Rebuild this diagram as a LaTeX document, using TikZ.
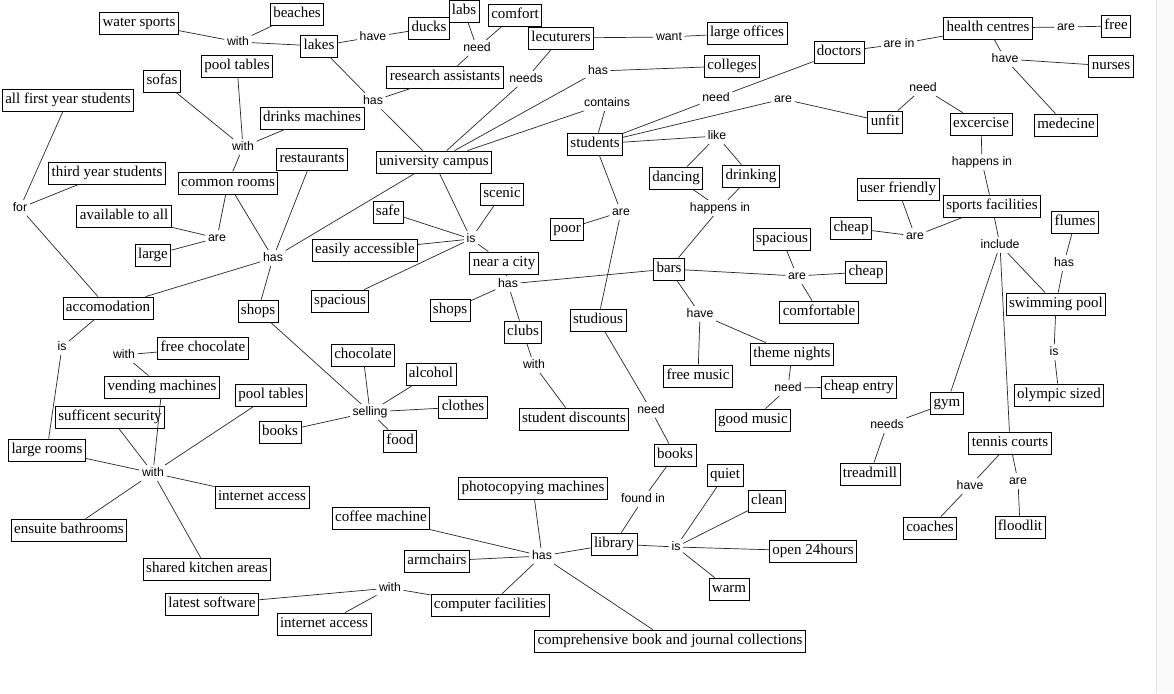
\documentclass[tikz,border=0pt]{standalone}
\usepackage{fontspec}
\setmainfont{Liberation Serif}
\newfontfamily\labfam{Liberation Sans}
\newcommand\boxfont{\fontsize{15}{18}\selectfont}
\newcommand\labfont{\labfam\fontsize{12.3}{14}\selectfont}
\begin{document}
\begin{tikzpicture}[x=1pt,y=-1pt,
  box/.style={draw=black, line width=0.8pt, font=\boxfont, inner xsep=3pt, inner ysep=3.6pt, text height=11pt, text depth=3.8pt},
  lab/.style={font=\labfont, inner sep=2.5pt, text height=8.5pt, text depth=2pt},
  conn/.style={line width=0.7pt, black!85}]
\useasboundingbox[fill=white] (0,0) rectangle (1174,693);
\fill[black!2] (1157,0) rectangle (1174,693);
\draw[black!12, line width=0.6pt] (1156.5,0) -- (1156.5,693);

% boxes
\node[box] (ws) at (139,23) {water sports};
\node[box] (beaches) at (297,14) {beaches};
\node[box] (lakes) at (319,46) {lakes};
\node[box] (ducks) at (429,28) {ducks};
\node[box] (labs) at (464,11) {labs};
\node[box] (comfort) at (515,15) {comfort};
\node[box] (lect) at (561,38) {lecuturers};
\node[box] (offices) at (747,33) {large offices};
\node[box] (resass) at (445,77) {research assistants};
\node[box] (colleges) at (732,66) {colleges};
\node[box] (pooltop) at (237,66) {pool tables};
\node[box] (sofas) at (162,81) {sofas};
\node[box] (afys) at (68,100) {all first year students};
\node[box] (drinks) at (312,118) {drinks machines};
\node[box] (restaurants) at (312,159) {restaurants};
\node[box] (tys) at (107,173) {third year students};
\node[box] (common) at (228,183) {common rooms};
\node[box] (avail) at (124,216) {available to all};
\node[box] (large) at (153,255) {large};
\node[box] (campus) at (434,162) {university campus};
\node[box] (students) at (595,144) {students};
\node[box] (doctors) at (839,52) {doctors};
\node[box] (hc) at (988,28) {health centres};
\node[box] (free) at (1116,26) {free};
\node[box] (nurses) at (1111,66) {nurses};
\node[box] (unfit) at (885,122) {unfit};
\node[box] (exc) at (981,124) {excercise};
\node[box] (med) at (1066,125) {medecine};
\node[box] (dancing) at (676,178) {dancing};
\node[box] (drinking) at (751,176) {drinking};
\node[box] (scenic) at (502,194) {scenic};
\node[box] (safe) at (388,212) {safe};
\node[box] (poor) at (567,229) {poor};
\node[box] (userf) at (898,189) {user friendly};
\node[box] (sports) at (992,206) {sports facilities};
\node[box] (cheapS) at (851,228) {cheap};
\node[box] (flumes) at (1075,222) {flumes};
\node[box] (easy) at (365,250) {easily accessible};
\node[box] (city) at (504,263) {near a city};
\node[box] (bars) at (669,269) {bars};
\node[box] (spaciousB) at (782,239) {spacious};
\node[box] (cheapB) at (866,272) {cheap};
\node[box] (accom) at (108,308) {accomodation};
\node[box] (shopsL) at (258,311) {shops};
\node[box] (spaciousC) at (340,301) {spacious};
\node[box] (shopsC) at (450,310) {shops};
\node[box] (comfortable) at (819,312) {comfortable};
\node[box] (swim) at (1056,304) {swimming pool};
\node[box] (studious) at (598,320) {studious};
\node[box] (clubs) at (523,332) {clubs};
\node[box] (freechoc) at (203,348) {free chocolate};
\node[box] (chocolate) at (363,355) {chocolate};
\node[box] (theme) at (792,354) {theme nights};
\node[box] (alcohol) at (431,374) {alcohol};
\node[box] (freemusic) at (698,376) {free music};
\node[box] (vending) at (162,387) {vending machines};
\node[box] (cheapentry) at (859,387) {cheap entry};
\node[box] (pooltab2) at (271,395) {pool tables};
\node[box] (olympic) at (1059,395) {olympic sized};
\node[box] (gym) at (947,403) {gym};
\node[box] (clothes) at (463,407) {clothes};
\node[box] (security) at (110,417) {sufficent security};
\node[box] (studdisc) at (574,419) {student discounts};
\node[box] (goodmusic) at (753,420) {good music};
\node[box] (booksL) at (280,432) {books};
\node[box] (food) at (400,441) {food};
\node[box] (tennis) at (1010,443) {tennis courts};
\node[box] (largerooms) at (47,450) {large rooms};
\node[box] (booksC) at (675,455) {books};
\node[box] (treadmill) at (870,474) {treadmill};
\node[box] (quiet) at (725,475) {quiet};
\node[box] (photo) at (533,488) {photocopying machines};
\node[box] (inet1) at (262,497) {internet access};
\node[box] (clean) at (767,501) {clean};
\node[box] (coffee) at (381,518) {coffee machine};
\node[box] (coaches) at (930,528) {coaches};
\node[box] (floodlit) at (1020,527) {floodlit};
\node[box] (ensuite) at (69,530) {ensuite bathrooms};
\node[box] (library) at (614,544) {library};
\node[box] (open) at (813,551) {open 24hours};
\node[box] (armchairs) at (437,561) {armchairs};
\node[box] (shared) at (207,569) {shared kitchen areas};
\node[box] (warm) at (729,589) {warm};
\node[box] (latest) at (212,604) {latest software};
\node[box] (compf) at (490,605) {computer facilities};
\node[box] (inet2) at (324,624) {internet access};
\node[box] (comp) at (670,641) {comprehensive book and journal collections};

% labels
\node[lab] (with1) at (238,42) {with};
\node[lab] (have1) at (373,37) {have};
\node[lab] (has1) at (373,101) {has};
\node[lab] (need1) at (477,48) {need};
\node[lab] (needs1) at (526,79) {needs};
\node[lab] (want) at (669,37) {want};
\node[lab] (has2) at (598,71) {has};
\node[lab] (contains) at (607,103) {contains};
\node[lab] (need2) at (716,98) {need};
\node[lab] (are1) at (783,99) {are};
\node[lab] (arein) at (899,44) {are in};
\node[lab] (are2) at (1066,27) {are};
\node[lab] (have2) at (1005,59) {have};
\node[lab] (need3) at (923,88) {need};
\node[lab] (like) at (717,136) {like};
\node[lab] (with2) at (243,147) {with};
\node[lab] (happ1) at (982,162) {happens in};
\node[lab] (for) at (20,208) {for};
\node[lab] (happ2) at (720,208) {happens in};
\node[lab] (are3) at (621,212) {are};
\node[lab] (are4) at (217,238) {are};
\node[lab] (is1) at (471,239) {is};
\node[lab] (are5) at (915,236) {are};
\node[lab] (include) at (1000,245) {include};
\node[lab] (has3) at (273,258) {has};
\node[lab] (has4) at (1064,263) {has};
\node[lab] (are6) at (797,276) {are};
\node[lab] (has5) at (508,284) {has};
\node[lab] (have3) at (700,314) {have};
\node[lab] (is2) at (62,347) {is};
\node[lab] (is3) at (1054,352) {is};
\node[lab] (with3) at (124,355) {with};
\node[lab] (with4) at (534,365) {with};
\node[lab] (need4) at (788,388) {need};
\node[lab] (need5) at (651,410) {need};
\node[lab] (selling) at (370,412) {selling};
\node[lab] (needs2) at (887,425) {needs};
\node[lab] (with5) at (153,473) {with};
\node[lab] (are7) at (1018,481) {are};
\node[lab] (have4) at (970,486) {have};
\node[lab] (foundin) at (643,499) {found in};
\node[lab] (is4) at (676,547) {is};
\node[lab] (has6) at (542,556) {has};
\node[lab] (with6) at (390,588) {with};

% connectors
\foreach \a/\b in {
  ws/with1, beaches/with1, with1/lakes,
  lakes/have1, have1/ducks,
  lakes/has1, has1/campus, has1/resass,
  resass/need1, need1/labs, need1/comfort,
  lect/needs1, needs1/campus,
  lect/want, want/offices,
  campus/has2, has2/colleges,
  campus/contains, contains/students,
  students/need2, need2/doctors,
  students/are1, are1/unfit,
  doctors/arein, arein/hc,
  hc/are2, are2/free,
  hc/have2, have2/nurses, have2/med,
  unfit/need3, need3/exc,
  exc/happ1, happ1/sports,
  sports/are5, are5/cheapS, are5/userf,
  sports/include, include/gym, include/tennis, include/swim,
  swim/has4, has4/flumes,
  swim/is3, is3/olympic,
  gym/needs2, needs2/treadmill,
  tennis/have4, have4/coaches, tennis/are7, are7/floodlit,
  students/like, like/dancing, like/drinking,
  dancing/happ2, drinking/happ2, happ2/bars,
  students/are3, are3/poor, are3/studious,
  studious/need5, need5/booksC,
  booksC/foundin, foundin/library,
  library/is4, is4/quiet, is4/clean, is4/open, is4/warm,
  library/has6, has6/photo, has6/coffee, has6/armchairs, has6/compf, has6/comp,
  compf/with6, with6/latest, with6/inet2,
  bars/are6, are6/spaciousB, are6/cheapB, are6/comfortable,
  bars/have3, have3/freemusic, have3/theme,
  theme/need4, need4/cheapentry, need4/goodmusic,
  city/has5, has5/shopsC, has5/clubs, has5/bars,
  clubs/with4, with4/studdisc,
  campus/is1, is1/safe, is1/easy, is1/spaciousC, is1/scenic, is1/city,
  campus/has3, has3/restaurants, has3/common, has3/shopsL, has3/accom,
  common/with2, with2/sofas, with2/pooltop, with2/drinks,
  common/are4, are4/avail, are4/large,
  accom/for, for/afys, for/tys,
  accom/is2, is2/largerooms,
  largerooms/with5, with5/security, with5/vending, with5/pooltab2, with5/inet1, with5/ensuite, with5/shared,
  vending/with3, with3/freechoc,
  shopsL/selling, selling/chocolate, selling/alcohol, selling/clothes, selling/food, selling/booksL}
  \draw[conn] (\a) -- (\b);
\end{tikzpicture}
\end{document}
